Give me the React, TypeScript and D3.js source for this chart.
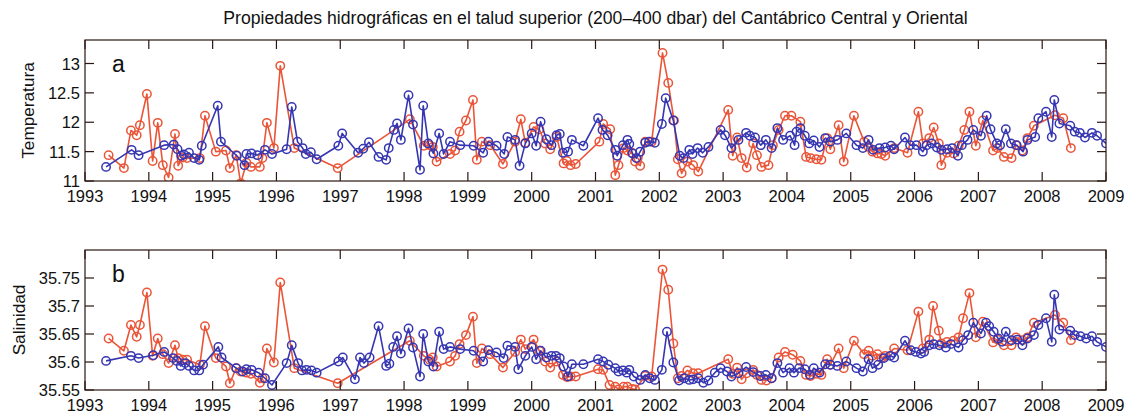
import React from "react";
import * as d3 from "d3";

const title = "Propiedades hidrográficas en el talud superior (200–400 dbar) del Cantábrico Central y Oriental";
const yearTicks = [1993, 1994, 1995, 1996, 1997, 1998, 1999, 2000, 2001, 2002, 2003, 2004, 2005, 2006, 2007, 2008, 2009];
const tempTicks = [11, 11.5, 12, 12.5, 13];
const salTicks = [35.55, 35.6, 35.65, 35.7, 35.75];
const tempTickLabels = ["11", "11.5", "12", "12.5", "13"];
const salTickLabels = ["35.55", "35.6", "35.65", "35.7", "35.75"];

// [decimal year, temperature] — blue series
const tempBlue: [number, number][] = [
  [1993.33, 11.24], [1993.73, 11.53], [1993.84, 11.44], [1994.24, 11.61], [1994.39, 11.62], [1994.45, 11.54],
  [1994.51, 11.43], [1994.55, 11.45], [1994.63, 11.48], [1994.71, 11.39], [1994.79, 11.36], [1994.83, 11.6],
  [1995.08, 12.28], [1995.13, 11.67], [1995.38, 11.43], [1995.5, 11.27], [1995.53, 11.46], [1995.61, 11.47],
  [1995.7, 11.44], [1995.82, 11.53], [1995.93, 11.46], [1996.16, 11.54], [1996.24, 12.26], [1996.33, 11.67],
  [1996.41, 11.56], [1996.46, 11.46], [1996.54, 11.49], [1996.63, 11.37], [1996.97, 11.6], [1997.03, 11.81],
  [1997.28, 11.48], [1997.36, 11.55], [1997.45, 11.66], [1997.6, 11.41], [1997.72, 11.36], [1997.76, 11.56],
  [1997.84, 11.87], [1997.89, 11.98], [1997.95, 11.7], [1998.07, 12.46], [1998.14, 11.96], [1998.25, 11.19],
  [1998.3, 12.28], [1998.38, 11.64], [1998.46, 11.47], [1998.55, 11.81], [1998.62, 11.46], [1998.72, 11.67],
  [1998.88, 11.61], [1999.09, 11.6], [1999.24, 11.48], [1999.32, 11.67], [1999.45, 11.6], [1999.57, 11.46],
  [1999.62, 11.75], [1999.74, 11.7], [1999.81, 11.26], [1999.9, 11.64], [2000.0, 11.81], [2000.07, 11.6],
  [2000.14, 12.01], [2000.23, 11.71], [2000.31, 11.61], [2000.39, 11.78], [2000.44, 11.8], [2000.49, 11.48],
  [2000.57, 11.5], [2000.63, 11.7], [2000.81, 11.6], [2001.04, 12.07], [2001.11, 11.87], [2001.19, 11.78],
  [2001.31, 11.53], [2001.34, 11.43], [2001.43, 11.61], [2001.5, 11.7], [2001.53, 11.63], [2001.58, 11.47],
  [2001.64, 11.39], [2001.7, 11.5], [2001.78, 11.65], [2001.84, 11.67], [2001.93, 11.65], [2002.04, 11.97],
  [2002.1, 12.41], [2002.22, 12.03], [2002.32, 11.43], [2002.38, 11.39], [2002.47, 11.53], [2002.52, 11.46],
  [2002.6, 11.56], [2002.68, 11.48], [2002.77, 11.58], [2002.96, 11.87], [2003.03, 11.78], [2003.13, 11.56],
  [2003.24, 11.7], [2003.36, 11.82], [2003.42, 11.77], [2003.5, 11.74], [2003.59, 11.61], [2003.67, 11.7],
  [2003.76, 11.56], [2003.85, 11.9], [2003.94, 11.7], [2004.05, 11.77], [2004.12, 11.61], [2004.15, 11.84],
  [2004.21, 11.9], [2004.28, 11.77], [2004.35, 11.64], [2004.42, 11.69], [2004.51, 11.58], [2004.6, 11.73],
  [2004.68, 11.67], [2004.79, 11.7], [2004.93, 11.81], [2005.09, 11.61], [2005.19, 11.56], [2005.28, 11.7],
  [2005.35, 11.53], [2005.45, 11.56], [2005.54, 11.57], [2005.63, 11.6], [2005.68, 11.54], [2005.85, 11.74],
  [2005.93, 11.61], [2006.03, 11.61], [2006.13, 11.5], [2006.19, 11.61], [2006.27, 11.64], [2006.35, 11.57],
  [2006.42, 11.53], [2006.51, 11.54], [2006.59, 11.56], [2006.68, 11.43], [2006.74, 11.61], [2006.83, 11.7],
  [2006.92, 11.87], [2007.04, 11.77], [2007.13, 12.11], [2007.19, 11.88], [2007.29, 11.64], [2007.34, 11.61],
  [2007.43, 11.88], [2007.51, 11.64], [2007.6, 11.61], [2007.7, 11.5], [2007.77, 11.7], [2007.89, 11.75],
  [2007.94, 12.07], [2008.06, 12.18], [2008.15, 11.75], [2008.19, 12.38], [2008.27, 11.98], [2008.44, 11.94],
  [2008.51, 11.84], [2008.59, 11.82], [2008.67, 11.74], [2008.78, 11.82], [2008.86, 11.77], [2009.0, 11.64],
];

// [decimal year, temperature] — red series
const tempRed: [number, number][] = [
  [1993.37, 11.44], [1993.61, 11.22], [1993.72, 11.86], [1993.81, 11.78], [1993.86, 11.95], [1993.97, 12.48],
  [1994.06, 11.34], [1994.14, 11.99], [1994.22, 11.27], [1994.31, 11.06], [1994.41, 11.8], [1994.46, 11.26],
  [1994.53, 11.4], [1994.6, 11.39], [1994.8, 11.39], [1994.88, 12.11], [1995.05, 11.5], [1995.21, 11.52],
  [1995.27, 11.22], [1995.37, 11.44], [1995.44, 10.96], [1995.53, 11.31], [1995.6, 11.24], [1995.74, 11.24],
  [1995.78, 11.39], [1995.85, 11.99], [1995.96, 11.56], [1996.06, 12.96], [1996.28, 11.56], [1996.96, 11.22],
  [1998.09, 12.05], [1998.31, 11.6], [1998.4, 11.61], [1998.45, 11.58], [1998.51, 11.33], [1998.72, 11.46],
  [1998.8, 11.52], [1998.87, 11.84], [1998.97, 12.03], [1999.08, 12.38], [1999.14, 11.36], [1999.22, 11.67],
  [1999.35, 11.61], [1999.55, 11.29], [1999.74, 11.67], [1999.83, 12.05], [1999.9, 11.65], [2000.03, 11.92],
  [2000.12, 11.88], [2000.21, 11.64], [2000.29, 11.54], [2000.39, 11.75], [2000.5, 11.3], [2000.55, 11.34],
  [2000.61, 11.27], [2000.69, 11.29], [2001.06, 11.67], [2001.12, 11.97], [2001.23, 11.88], [2001.31, 11.1],
  [2001.36, 11.27], [2001.44, 11.56], [2001.5, 11.52], [2001.57, 11.48], [2001.62, 11.33], [2001.7, 11.26],
  [2001.78, 11.67], [2001.88, 11.67], [2002.05, 13.18], [2002.14, 12.67], [2002.23, 12.03], [2002.29, 11.37],
  [2002.35, 11.13], [2002.44, 11.33], [2002.53, 11.27], [2002.61, 11.16], [2003.08, 12.21], [2003.15, 11.43],
  [2003.22, 11.74], [2003.29, 11.39], [2003.37, 11.23], [2003.47, 11.64], [2003.53, 11.44], [2003.6, 11.24],
  [2003.71, 11.27], [2003.78, 11.61], [2003.87, 11.87], [2003.97, 12.11], [2004.07, 12.11], [2004.21, 12.01],
  [2004.3, 11.41], [2004.37, 11.39], [2004.46, 11.37], [2004.54, 11.36], [2004.63, 11.73], [2004.68, 11.54],
  [2004.81, 11.95], [2004.89, 11.33], [2005.05, 12.11], [2005.21, 11.67], [2005.28, 11.58], [2005.34, 11.5],
  [2005.42, 11.47], [2005.48, 11.46], [2005.54, 11.43], [2005.68, 11.56], [2005.89, 11.48], [2006.06, 12.18],
  [2006.13, 11.64], [2006.23, 11.73], [2006.3, 11.91], [2006.38, 11.64], [2006.42, 11.27], [2006.51, 11.48],
  [2006.61, 11.47], [2006.69, 11.6], [2006.78, 11.87], [2006.86, 12.18], [2006.96, 11.6], [2007.07, 12.03],
  [2007.23, 11.52], [2007.3, 11.56], [2007.4, 11.41], [2007.52, 11.39], [2007.59, 11.61], [2007.69, 11.52],
  [2007.77, 11.73], [2007.87, 11.94], [2008.2, 12.12], [2008.33, 12.07], [2008.45, 11.56],
];

// [decimal year, salinity] — blue series
const salBlue: [number, number][] = [
  [1993.33, 35.602], [1993.72, 35.611], [1993.84, 35.607], [1994.07, 35.612], [1994.24, 35.618], [1994.38, 35.607],
  [1994.44, 35.602], [1994.5, 35.593], [1994.57, 35.598], [1994.63, 35.593], [1994.71, 35.585], [1994.79, 35.585],
  [1994.85, 35.595], [1995.09, 35.627], [1995.14, 35.608], [1995.37, 35.589], [1995.47, 35.583], [1995.53, 35.587],
  [1995.61, 35.586], [1995.72, 35.581], [1995.82, 35.571], [1995.93, 35.559], [1996.16, 35.598], [1996.24, 35.63],
  [1996.34, 35.598], [1996.4, 35.585], [1996.47, 35.586], [1996.55, 35.585], [1996.63, 35.581], [1996.97, 35.601],
  [1997.04, 35.608], [1997.23, 35.569], [1997.31, 35.608], [1997.37, 35.598], [1997.46, 35.608], [1997.6, 35.664],
  [1997.72, 35.593], [1997.77, 35.597], [1997.83, 35.627], [1997.89, 35.646], [1997.95, 35.615], [1998.07, 35.66],
  [1998.14, 35.626], [1998.25, 35.574], [1998.3, 35.65], [1998.38, 35.601], [1998.46, 35.592], [1998.55, 35.654],
  [1998.62, 35.623], [1998.72, 35.627], [1998.88, 35.623], [1999.09, 35.62], [1999.24, 35.601], [1999.32, 35.621],
  [1999.45, 35.617], [1999.56, 35.607], [1999.62, 35.629], [1999.74, 35.627], [1999.79, 35.587], [1999.9, 35.611],
  [2000.0, 35.627], [2000.07, 35.605], [2000.14, 35.62], [2000.23, 35.608], [2000.31, 35.611], [2000.38, 35.611],
  [2000.44, 35.607], [2000.5, 35.592], [2000.57, 35.574], [2000.63, 35.596], [2000.81, 35.596], [2001.04, 35.605],
  [2001.12, 35.601], [2001.2, 35.595], [2001.31, 35.589], [2001.36, 35.583], [2001.43, 35.585], [2001.49, 35.581],
  [2001.53, 35.586], [2001.6, 35.574], [2001.7, 35.568], [2001.78, 35.577], [2001.85, 35.571], [2001.93, 35.568],
  [2002.04, 35.586], [2002.12, 35.654], [2002.22, 35.599], [2002.31, 35.567], [2002.39, 35.571], [2002.47, 35.568],
  [2002.53, 35.569], [2002.61, 35.571], [2002.69, 35.563], [2002.77, 35.567], [2002.87, 35.581], [2002.96, 35.589],
  [2003.06, 35.583], [2003.13, 35.574], [2003.24, 35.58], [2003.36, 35.591], [2003.47, 35.582], [2003.58, 35.575],
  [2003.67, 35.577], [2003.76, 35.571], [2003.85, 35.598], [2003.94, 35.581], [2004.04, 35.589], [2004.11, 35.581],
  [2004.19, 35.589], [2004.28, 35.587], [2004.36, 35.577], [2004.42, 35.589], [2004.51, 35.581], [2004.6, 35.596],
  [2004.68, 35.595], [2004.79, 35.593], [2004.93, 35.601], [2005.09, 35.589], [2005.19, 35.583], [2005.28, 35.605],
  [2005.34, 35.589], [2005.43, 35.595], [2005.52, 35.607], [2005.62, 35.611], [2005.68, 35.608], [2005.85, 35.638],
  [2005.94, 35.621], [2006.02, 35.618], [2006.1, 35.615], [2006.15, 35.618], [2006.23, 35.63], [2006.3, 35.632],
  [2006.39, 35.63], [2006.49, 35.626], [2006.57, 35.632], [2006.69, 35.626], [2006.76, 35.639], [2006.84, 35.648],
  [2006.92, 35.67], [2007.04, 35.651], [2007.12, 35.67], [2007.17, 35.664], [2007.24, 35.654], [2007.31, 35.642],
  [2007.37, 35.636], [2007.43, 35.654], [2007.52, 35.639], [2007.61, 35.64], [2007.69, 35.63], [2007.77, 35.642],
  [2007.87, 35.648], [2007.94, 35.666], [2008.06, 35.678], [2008.15, 35.636], [2008.19, 35.72], [2008.27, 35.658],
  [2008.44, 35.656], [2008.51, 35.648], [2008.6, 35.646], [2008.69, 35.642], [2008.78, 35.646], [2008.86, 35.636],
  [2009.0, 35.627],
];

// [decimal year, salinity] — red series
const salRed: [number, number][] = [
  [1993.37, 35.642], [1993.61, 35.62], [1993.72, 35.666], [1993.81, 35.645], [1993.86, 35.666], [1993.97, 35.724],
  [1994.06, 35.611], [1994.14, 35.642], [1994.22, 35.614], [1994.31, 35.598], [1994.41, 35.63], [1994.46, 35.607],
  [1994.53, 35.604], [1994.6, 35.604], [1994.8, 35.595], [1994.88, 35.664], [1995.05, 35.607], [1995.21, 35.592],
  [1995.27, 35.562], [1995.37, 35.589], [1995.44, 35.583], [1995.53, 35.581], [1995.6, 35.579], [1995.74, 35.563],
  [1995.78, 35.571], [1995.85, 35.624], [1995.96, 35.599], [1996.06, 35.742], [1996.28, 35.589], [1996.96, 35.562],
  [1998.09, 35.638], [1998.31, 35.611], [1998.4, 35.604], [1998.45, 35.608], [1998.51, 35.592], [1998.72, 35.601],
  [1998.8, 35.611], [1998.87, 35.632], [1998.97, 35.648], [1999.08, 35.681], [1999.14, 35.598], [1999.22, 35.624],
  [1999.35, 35.614], [1999.55, 35.59], [1999.74, 35.618], [1999.83, 35.64], [1999.9, 35.623], [2000.03, 35.64],
  [2000.12, 35.62], [2000.21, 35.601], [2000.29, 35.59], [2000.39, 35.601], [2000.49, 35.577], [2000.55, 35.573],
  [2000.61, 35.574], [2000.69, 35.574], [2001.04, 35.587], [2001.12, 35.586], [2001.22, 35.559], [2001.31, 35.556],
  [2001.36, 35.551], [2001.44, 35.556], [2001.5, 35.556], [2001.57, 35.552], [2001.62, 35.551], [2001.78, 35.575],
  [2001.88, 35.574], [2002.05, 35.765], [2002.14, 35.729], [2002.22, 35.633], [2002.29, 35.571], [2002.35, 35.575],
  [2002.44, 35.585], [2002.53, 35.58], [2002.61, 35.58], [2003.08, 35.605], [2003.15, 35.579], [2003.22, 35.59],
  [2003.29, 35.569], [2003.37, 35.58], [2003.47, 35.586], [2003.53, 35.577], [2003.6, 35.568], [2003.68, 35.567],
  [2003.76, 35.571], [2003.87, 35.608], [2003.97, 35.618], [2004.09, 35.613], [2004.21, 35.602], [2004.3, 35.577],
  [2004.37, 35.575], [2004.46, 35.579], [2004.54, 35.577], [2004.63, 35.605], [2004.68, 35.595], [2004.81, 35.624],
  [2004.89, 35.589], [2005.05, 35.638], [2005.21, 35.614], [2005.28, 35.62], [2005.34, 35.611], [2005.42, 35.614],
  [2005.48, 35.607], [2005.54, 35.611], [2005.68, 35.624], [2005.89, 35.621], [2006.06, 35.69], [2006.13, 35.624],
  [2006.23, 35.64], [2006.29, 35.7], [2006.38, 35.656], [2006.42, 35.633], [2006.51, 35.636], [2006.61, 35.638],
  [2006.69, 35.644], [2006.76, 35.678], [2006.86, 35.723], [2006.96, 35.644], [2007.07, 35.672], [2007.23, 35.635],
  [2007.3, 35.64], [2007.4, 35.63], [2007.52, 35.63], [2007.59, 35.644], [2007.69, 35.639], [2007.77, 35.644],
  [2007.87, 35.67], [2008.2, 35.684], [2008.33, 35.67], [2008.45, 35.639],
];

const BLUE = "#3636b2";
const RED = "#ea5538";
const AXIS = "#2a1612";
const FONT = "'Liberation Sans', Arial, Helvetica, sans-serif";

const W = 1138;
const H = 417;
const X0 = 85;
const X1 = 1106;

const x = d3.scaleLinear().domain([1993, 2009]).range([X0, X1]);

type PanelProps = {
  top: number;
  bottom: number;
  domain: [number, number];
  ticks: number[];
  tickLabels: string[];
  ylabel: string;
  ylabelX: number;
  letter: string;
  blue: [number, number][];
  red: [number, number][];
  id: string;
};

function Panel({ top, bottom, domain, ticks, tickLabels, ylabel, ylabelX, letter, blue, red, id }: PanelProps) {
  const y = d3.scaleLinear().domain(domain).range([bottom, top]);
  const line = d3
    .line<[number, number]>()
    .x((d) => x(d[0]))
    .y((d) => y(d[1]));
  const tl = 9;
  const series = [
    { data: red, color: RED },
    { data: blue, color: BLUE },
  ];
  return (
    <g>
      <defs>
        <clipPath id={id}>
          <rect x={X0} y={top} width={X1 - X0} height={bottom - top} />
        </clipPath>
      </defs>
      <g clipPath={`url(#${id})`}>
        {series.map((s, i) => (
          <g key={i}>
            <path d={line(s.data) || ""} fill="none" stroke={s.color} strokeWidth={1.6} strokeLinejoin="round" />
            {s.data.map((d, j) => (
              <circle key={j} cx={x(d[0])} cy={y(d[1])} r={4.2} fill="none" stroke={s.color} strokeWidth={1.5} />
            ))}
          </g>
        ))}
      </g>
      <rect x={X0} y={top} width={X1 - X0} height={bottom - top} fill="none" stroke={AXIS} strokeWidth={1.2} />
      {yearTicks.map((t) => (
        <g key={t}>
          <line x1={x(t)} x2={x(t)} y1={bottom} y2={bottom - tl} stroke={AXIS} strokeWidth={1.2} />
          <line x1={x(t)} x2={x(t)} y1={top} y2={top + tl} stroke={AXIS} strokeWidth={1.2} />
          <text x={x(t)} y={bottom + 20.5} textAnchor="middle" fontSize={16.5} fontFamily={FONT} fill="#111">
            {t}
          </text>
        </g>
      ))}
      {ticks.map((t, i) => (
        <g key={t}>
          <line x1={X0} x2={X0 + tl} y1={y(t)} y2={y(t)} stroke={AXIS} strokeWidth={1.2} />
          <line x1={X1} x2={X1 - tl} y1={y(t)} y2={y(t)} stroke={AXIS} strokeWidth={1.2} />
          <text x={X0 - 5} y={y(t) + 6} textAnchor="end" fontSize={16.5} fontFamily={FONT} fill="#111">
            {tickLabels[i]}
          </text>
        </g>
      ))}
      <text
        transform={`translate(${ylabelX},${(top + bottom) / 2}) rotate(-90)`}
        textAnchor="middle"
        fontSize={17.2}
        fontFamily={FONT}
        fill="#111"
      >
        {ylabel}
      </text>
      <text x={112} y={top + 32} fontSize={23} fontFamily={FONT} fill="#111">
        {letter}
      </text>
    </g>
  );
}

export default function App() {
  return (
    <svg
      width={W}
      height={H}
      viewBox={`0 0 ${W} ${H}`}
      style={{ position: "absolute", left: 0, top: 0, background: "#fff" }}
    >
      <rect width={W} height={H} fill="#fff" />
      <text x={(X0 + X1) / 2} y={24} textAnchor="middle" fontSize={17.6} fontFamily={FONT} fill="#111">
        {title}
      </text>
      <Panel
        id="clipA"
        top={40}
        bottom={181}
        domain={[11, 13.4]}
        ticks={tempTicks}
        tickLabels={tempTickLabels}
        ylabel="Temperatura"
        ylabelX={33.5}
        letter="a"
        blue={tempBlue}
        red={tempRed}
      />
      <Panel
        id="clipB"
        top={250}
        bottom={390}
        domain={[35.55, 35.8]}
        ticks={salTicks}
        tickLabels={salTickLabels}
        ylabel="Salinidad"
        ylabelX={24.5}
        letter="b"
        blue={salBlue}
        red={salRed}
      />
    </svg>
  );
}
